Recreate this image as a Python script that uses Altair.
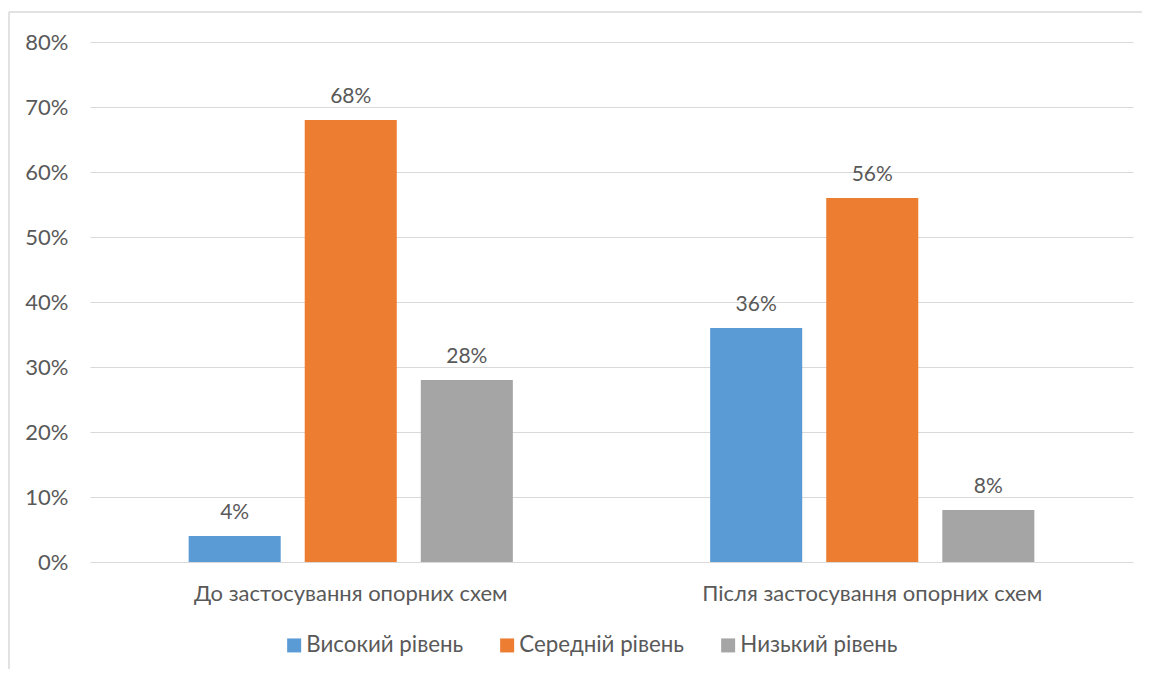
import altair as alt
import pandas as pd

groups = ["До застосування опорних схем", "Після застосування опорних схем"]
levels = ["Високий рівень", "Середній рівень", "Низький рівень"]
before = [0.04, 0.68, 0.28]
after = [0.36, 0.56, 0.08]
colors = ["#5B9BD5", "#ED7D31", "#A5A5A5"]
y_ticks = [0, 0.1, 0.2, 0.3, 0.4, 0.5, 0.6, 0.7, 0.8]

rows = []
for g, vals in zip(groups, [before, after]):
    for lv, v in zip(levels, vals):
        rows.append({"group": g, "level": lv, "value": v})
df = pd.DataFrame(rows)

FONT = "Lato"
TXT = "#595959"
GRID = "#D9D9D9"

x = alt.X("group:N", sort=groups, title=None,
          scale=alt.Scale(paddingInner=0, paddingOuter=0),
          axis=alt.Axis(labelAngle=0, ticks=False, domain=False, grid=False, labelPadding=21,
                        labelFontSize=22, labelColor=TXT, labelFont=FONT, labelLimit=1000))
xo = alt.XOffset("level:N", sort=levels,
                 scale=alt.Scale(paddingInner=0.207, paddingOuter=0.85))
y = alt.Y("value:Q", title=None,
          scale=alt.Scale(domain=[0, 0.8]),
          axis=alt.Axis(values=y_ticks, format=".0%", ticks=False, domain=False,
                        labelPadding=22, labelFontSize=22, labelColor=TXT, labelFont=FONT,
                        gridColor=GRID, gridWidth=1))
color = alt.Color("level:N", sort=levels, title=None,
                  scale=alt.Scale(domain=levels, range=colors),
                  legend=alt.Legend(orient="none", legendX=193, legendY=592, direction="horizontal",
                                    symbolType="square", symbolSize=196, symbolStrokeWidth=0,
                                    labelFontSize=22.3, labelColor=TXT, labelFont=FONT,
                                    labelLimit=1000, columnPadding=32, labelOffset=1, padding=0))

base = alt.Chart(df)
bars = base.mark_bar().encode(x=x, xOffset=xo, y=y, color=color)
labels = base.mark_text(dy=-17, baseline="alphabetic", fontSize=21, color=TXT, font=FONT).encode(
    x=x, xOffset=xo, y=y, text=alt.Text("value:Q", format=".0%"))

edge = pd.DataFrame({"b": [0]})
top_border = alt.Chart(edge).mark_rule(color=GRID, strokeWidth=1.5, clip=False).encode(
    x=alt.value(-81), x2=alt.value(1100), y=alt.value(-30))
left_border = alt.Chart(edge).mark_rule(color=GRID, strokeWidth=1.5, clip=False).encode(
    x=alt.value(-81), y=alt.value(-30), y2=alt.value(800))

chart = alt.layer(top_border, left_border, bars, labels).properties(
    width=1043, height=520,
    autosize=alt.AutoSizeParams(type="none"),
    padding={"left": 82, "top": 34, "right": 9, "bottom": 107},
    background="white",
).configure_view(strokeWidth=0, stroke="transparent")

chart.save("out.html", embed_options={"renderer": "svg", "actions": False})
